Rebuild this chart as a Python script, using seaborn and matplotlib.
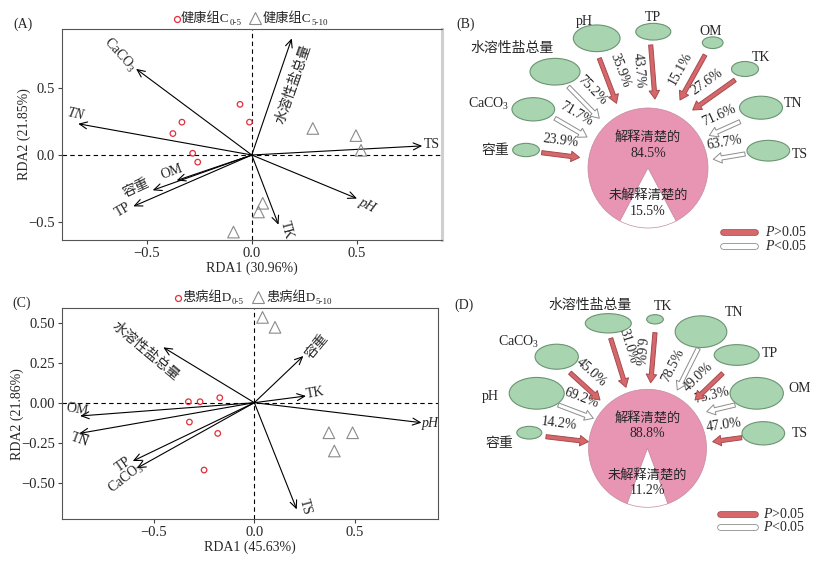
import numpy as np
import matplotlib
matplotlib.use("Agg")
import matplotlib.pyplot as plt
import matplotlib.patheffects as pe
from matplotlib.patches import Ellipse, FancyArrowPatch
import seaborn as sns

# ---------------- data ----------------
# (A) healthy group RDA: environmental factor arrow tips
a_factors = ['CaCO$_3$', 'TN', '水溶性盐总量', 'TS', 'pH', 'TK', 'TP', '容重', 'OM']
a_rda1 = [-0.550, -0.825, 0.190, 0.810, 0.500, 0.127, -0.563, -0.471, -0.357]
a_rda2 = [0.643, 0.233, 0.870, 0.068, -0.325, -0.520, -0.383, -0.263, -0.190]
# sample scores
a_c05_rda1 = [-0.056, -0.011, -0.332, -0.375, -0.281, -0.257]
a_c05_rda2 = [0.378, 0.245, 0.245, 0.160, 0.013, -0.053]
a_c510_rda1 = [0.290, 0.495, 0.519, 0.052, 0.032, -0.087]
a_c510_rda2 = [0.198, 0.145, 0.035, -0.360, -0.425, -0.575]
a_axis_pct = [30.96, 21.85]
a_groups = ['健康组C', '0-5', '健康组C', '5-10']

# (C) diseased group RDA
c_factors = ['水溶性盐总量', '容重', 'TK', 'pH', 'TS', 'CaCO$_3$', 'TP', 'TN', 'OM']
c_rda1 = [-0.453, 0.244, 0.257, 0.832, 0.211, -0.585, -0.605, -0.871, -0.867]
c_rda2 = [0.346, 0.292, 0.042, -0.125, -0.667, -0.410, -0.365, -0.192, -0.083]
c_d05_rda1 = [-0.328, -0.270, -0.172, -0.323, -0.182, -0.250]
c_d05_rda2 = [0.006, 0.006, 0.031, -0.121, -0.192, -0.421]
c_d510_rda1 = [0.041, 0.103, 0.371, 0.489, 0.398]
c_d510_rda2 = [0.533, 0.471, -0.188, -0.188, -0.302]
c_axis_pct = [45.63, 21.86]
c_groups = ['患病组D', '0-5', '患病组D', '5-10']

# (B) variance partitioning, healthy
b_factors = ['pH', 'TP', 'OM', 'TK', 'TN', 'TS', '容重', 'CaCO$_3$', '水溶性盐总量']
b_pct = [35.9, 43.7, 15.1, 27.6, 71.6, 63.7, 23.9, 71.7, 75.2]
b_p_less = [False, False, False, False, True, True, False, True, True]
b_explained = 84.5

# (D) variance partitioning, diseased
d_factors = ['水溶性盐总量', 'TK', 'TN', 'TP', 'OM', 'TS', 'CaCO$_3$', 'pH', '容重']
d_pct = [31.0, 6.6, 78.5, 49.0, 75.3, 47.0, 45.0, 69.2, 14.2]
d_p_less = [False, False, True, False, True, False, False, True, False]
d_explained = 88.8

# ---------------- layout (label placement, node geometry in figure px) ----------------
a_lab = [(-0.627, 0.75, -48, False), (-0.84, 0.30, -12, True), (0.198, 0.525, 71, False),
         (0.857, 0.075, 0, False), (0.548, -0.375, -28, True), (0.163, -0.558, -75, False),
         (-0.611, -0.412, 30, False), (-0.548, -0.25, 25, False), (-0.381, -0.125, 20, False)]
c_lab = [(-0.544, 0.319, -40, False), (0.31, 0.35, 50, False), (0.302, 0.058, 10, False),
         (0.874, -0.129, 0, True), (0.252, -0.654, -75, False), (-0.635, -0.473, 38, False),
         (-0.652, -0.385, 35, False), (-0.871, -0.233, -20, False), (-0.884, -0.042, -10, False)]

b_lay = dict(
    circle=(648, 168, 60),
    ell=[(596.7, 38.3, 46.7, 26.7), (653.3, 31.7, 35, 16.7), (712.7, 42.7, 20.7, 11.7),
         (745, 69, 27, 15), (761, 107.7, 43, 23), (768.3, 150.7, 42.7, 20.7),
         (526, 150, 26.7, 13.3), (533.3, 109.3, 42.7, 23.3), (555, 71.7, 50, 26.7)],
    name=[(584, 21), (653.3, 17), (710.7, 31.7), (761, 57.3), (792.7, 103.3), (800, 154),
          (495, 150.7), (488.3, 104), (511.7, 48.3)],
    arrow=[(599.3, 58.3, 616.5, 103.3), (650.7, 45, 655, 99), (705, 55, 680, 100),
           (735, 80, 692.7, 110), (740, 121.7, 709.3, 135.5), (745, 154, 713.3, 159.3),
           (541.7, 152.7, 579.5, 157.5), (555, 118.3, 587, 137), (568.3, 86.7, 599.3, 118.3)],
    pct=[(612.7, 73.3), (645, 70), (684, 71), (710, 86.7), (720, 118.3), (725, 148.3),
         (560, 147.3), (571.7, 122.7), (586.7, 95)],
    tag=(466, 24), legend=(723, 755, 232, 245.7, 765),
)
d_lay = dict(
    circle=(647.5, 448.3, 59),
    ell=[(608.3, 323.3, 46, 19.3), (655, 319.3, 16.7, 9.3), (701, 331.7, 51.7, 31.7),
         (736.7, 355, 45, 20.7), (756.7, 393.3, 53.3, 31.7), (763.3, 433.3, 42.7, 23.3),
         (556.7, 356.7, 43.3, 25), (536.7, 393.3, 55, 31.7), (529.3, 432.7, 25, 12.7)],
    name=[(590, 305), (662.7, 306), (734.3, 312.7), (770, 353.3), (800, 388.3), (800, 433.3),
          (518.3, 341.7), (490, 396.7), (499.3, 443.3)],
    arrow=[(610.7, 338.3, 626, 387.3), (655, 332.7, 650.7, 382.7), (698.3, 348.3, 677.3, 390),
           (722.7, 373.3, 695, 400), (735, 405, 706.7, 411.7), (741.7, 437.7, 712.7, 441.7),
           (570, 372.7, 600, 400), (558.3, 405, 593.3, 418.3), (546, 436.7, 588.3, 441.7)],
    pct=[(624, 347.5), (643, 352), (675, 366.7), (701, 380), (713.3, 401.5),
         (725, 429.5), (591, 373), (580, 403.3), (558.3, 429.3)],
    tag=(464, 305), legend=(720, 755, 514, 526.7, 763),
)

RED = '#e0303a'
TRI = '#8a8a8a'
GREEN, GREEN_EC = '#a9d4b0', '#6b9473'
PINK = '#e895b3'
RED_FC, RED_EC = '#d6686c', '#a64a4d'
WHITE_FC, WHITE_EC = 'white', '#8c8c8c'
FS = 9.5
FS_B = 10

sns.set_style("ticks")
plt.rcParams['font.family'] = ['Liberation Serif', 'Noto Sans CJK SC']
plt.rcParams['mathtext.fontset'] = 'custom'
plt.rcParams['mathtext.rm'] = 'Liberation Serif'
plt.rcParams['mathtext.it'] = 'Liberation Serif:italic'

fig = plt.figure(figsize=(8.25, 5.61), dpi=100)
W, H = 825, 561


def draw_rda(ax, fx, fy, names, labs, s1x, s1y, s2x, s2y, pct, xlim, ylim, yticks):
    ax.axhline(0, color='k', ls='--', lw=0.8, dashes=(4, 3), zorder=1)
    ax.axvline(0, color='k', ls='--', lw=0.8, dashes=(4, 3), zorder=1)
    for x, y in zip(fx, fy):
        ax.annotate('', xy=(x, y), xytext=(0, 0),
                    arrowprops=dict(arrowstyle='->,head_length=0.55,head_width=0.25',
                                    lw=0.8, color='k', shrinkA=0, shrinkB=0))
    for name, (lx, ly, rot, it) in zip(names, labs):
        ax.text(lx, ly, name, rotation=rot, rotation_mode='anchor', ha='center', va='center',
                fontsize=FS_B, style='italic' if it else 'normal')
    sns.scatterplot(x=s1x, y=s1y, ax=ax, marker='o', s=16, facecolor='none',
                    edgecolor=RED, linewidth=0.9, zorder=3)
    sns.scatterplot(x=s2x, y=s2y, ax=ax, marker='^', s=70, facecolor='none',
                    edgecolor=TRI, linewidth=0.8, zorder=3)
    ax.set_xlim(xlim)
    ax.set_ylim(ylim)
    ax.set_xticks([-0.5, 0.0, 0.5])
    ax.set_yticks(yticks)
    ax.set_xlabel(f'RDA1 ({pct[0]:.2f}%)', fontsize=FS_B, labelpad=1)
    ax.set_ylabel(f'RDA2 ({pct[1]:.2f}%)', fontsize=FS_B, labelpad=-2)
    ax.tick_params(labelsize=10.5, length=3, width=0.8, pad=2, color='#444444')
    for s in ax.spines.values():
        s.set_color('#555555')
        s.set_linewidth(0.8)


ax_a = fig.add_axes([62 / W, 1 - 240 / H, 380 / W, 211 / H])
draw_rda(ax_a, a_rda1, a_rda2, a_factors, a_lab, a_c05_rda1, a_c05_rda2,
         a_c510_rda1, a_c510_rda2, a_axis_pct, (-0.902, 0.904), (-0.634, 0.94), [-0.5, 0.0, 0.5])
ax_a.spines['right'].set_color('#cfcfcf')
ax_a.spines['right'].set_linewidth(2.2)

ax_c = fig.add_axes([62 / W, 1 - 519 / H, 376 / W, 210.7 / H])
draw_rda(ax_c, c_rda1, c_rda2, c_factors, c_lab, c_d05_rda1, c_d05_rda2,
         c_d510_rda1, c_d510_rda2, c_axis_pct, (-0.957, 0.914), (-0.727, 0.59),
         [-0.5, -0.25, 0.0, 0.25, 0.5])

# overlay in figure pixel coordinates
ov = fig.add_axes([0, 0, 1, 1], zorder=10)
ov.patch.set_alpha(0)


def group_legend(x_c, x_t, y, groups):
    ov.plot([x_c], [y], marker='o', ms=4.3, mfc='none', mec=RED, mew=0.9)
    t1 = ov.text(x_c + 4.5, y, groups[0], fontsize=FS, ha='left', va='center')
    ov.annotate(groups[1], xy=(1, 0.18), xycoords=t1, fontsize=6.5, ha='left', va='center')
    ov.plot([x_t], [y - 1], marker='^', ms=8, mfc='none', mec=TRI, mew=0.8)
    t2 = ov.text(x_t + 8, y, groups[2], fontsize=FS, ha='left', va='center')
    ov.annotate(groups[3], xy=(1, 0.18), xycoords=t2, fontsize=6.5, ha='left', va='center')


group_legend(176.5, 255, 19, a_groups)
group_legend(178, 258, 297.5, c_groups)
ov.text(22.5, 24, '(A)', fontsize=FS + 0.5, ha='center', va='center')
ov.text(21.7, 303.3, '(C)', fontsize=FS + 0.5, ha='center', va='center')

ARROW = 'simple,head_length=6,head_width=7.5,tail_width=3'
MIN_GAP = 14.5


def draw_path(names, pct, p_less, explained, lay, tag):
    cx, cy, r = lay['circle']
    un = 100 - explained
    ov.pie([explained, un], colors=[PINK, 'white'], center=(cx, cy), radius=r,
           startangle=90 + un * 1.8, counterclock=True, frame=True,
           wedgeprops=dict(edgecolor='#c58aa0', linewidth=0.5))
    for i, name in enumerate(names):
        ex, ey, ew, eh = lay['ell'][i]
        ov.add_patch(Ellipse((ex, ey), ew, eh, fc=GREEN, ec=GREEN_EC, lw=0.8))
        nx, ny = lay['name'][i]
        ov.text(nx, ny, name, ha='center', va='center', fontsize=FS_B)
        x0, y0, x1, y1 = lay['arrow'][i]
        fc, ec = (WHITE_FC, WHITE_EC) if p_less[i] else (RED_FC, RED_EC)
        ov.add_patch(FancyArrowPatch((x0, y0), (x1, y1), arrowstyle=ARROW, mutation_scale=1,
                                     fc=fc, ec=ec, lw=0.7, shrinkA=0, shrinkB=0, zorder=4))
        ang = np.degrees(np.arctan2(-(y1 - y0), x1 - x0))
        if ang < -100:
            ang += 180
        elif ang > 100:
            ang -= 180
        # keep the percentage label clear of its arrow
        p = np.array(lay['pct'][i], dtype=float)
        u = np.array([x1 - x0, y1 - y0], dtype=float)
        u /= np.hypot(*u)
        n = np.array([-u[1], u[0]])
        d = np.dot(p - np.array([x0, y0]), n)
        if abs(d) < MIN_GAP:
            p += n * (np.sign(d) * MIN_GAP - d)
        ov.text(p[0], p[1], f'{pct[i]:.1f}%', rotation=ang, rotation_mode='anchor',
                ha='center', va='center', fontsize=FS_B)
    ov.text(cx, cy - 0.51 * r, '解释清楚的', ha='center', va='center', fontsize=FS)
    ov.text(cx, cy - 0.25 * r, f'{explained:.1f}%', ha='center', va='center', fontsize=FS_B)
    ov.text(cx, cy + 0.46 * r, '未解释清楚的', ha='center', va='center', fontsize=FS)
    ov.text(cx, cy + 0.72 * r, f'{un:.1f}%', ha='center', va='center', fontsize=FS_B)
    ov.text(*lay['tag'], tag, ha='center', va='center', fontsize=FS + 0.5)
    lx0, lx1, ly1, ly2, ltx = lay['legend']
    for y, fcol, ecol, lab in [(ly1, RED_FC, RED_EC, '$P$>0.05'),
                               (ly2, WHITE_FC, WHITE_EC, '$P$<0.05')]:
        ov.plot([lx0, lx1], [y, y], color=fcol, lw=3.6, solid_capstyle='round',
                path_effects=[pe.Stroke(linewidth=4.8, foreground=ecol, capstyle='round'),
                              pe.Normal()])
        ov.text(ltx, y, lab, ha='left', va='center', fontsize=FS_B)


draw_path(b_factors, b_pct, b_p_less, b_explained, b_lay, '(B)')
draw_path(d_factors, d_pct, d_p_less, d_explained, d_lay, '(D)')

ov.set_xlim(0, W)
ov.set_ylim(H, 0)
ov.set_aspect('auto')
ov.axis('off')

fig.savefig('out.png', dpi=100)
